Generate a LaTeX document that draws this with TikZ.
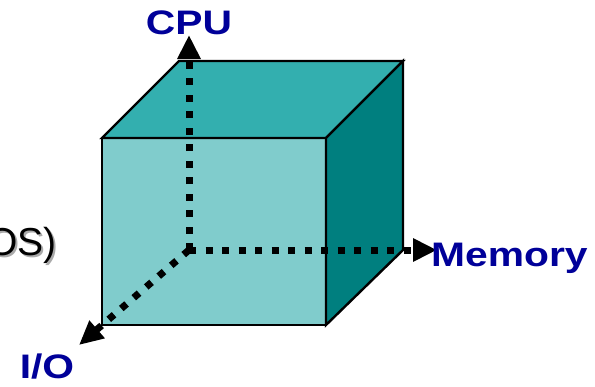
\documentclass[tikz,border=0pt]{standalone}
\usepackage{fontspec}
\usepackage{graphicx}
\setmainfont{Liberation Sans}
\usetikzlibrary{arrows.meta}
\definecolor{frontface}{RGB}{128,204,204}
\definecolor{topface}{RGB}{51,175,175}
\definecolor{sideface}{RGB}{0,127,127}
\definecolor{axislabel}{RGB}{0,0,153}
\definecolor{shadowgray}{RGB}{170,170,170}
\tikzset{
  face/.style={draw=black, line width=2.4pt, line join=miter},
  axis/.style={line width=7pt, dash pattern=on 7pt off 9.5pt,
    -{Triangle[length=24pt,width=22pt]}},
  axislbl/.style={text=axislabel, inner sep=0pt,
    font=\fontsize{34}{34}\selectfont\bfseries},
  oslbl/.style={inner sep=0pt, font=\fontsize{39}{39}\selectfont}
}
\newcommand{\widelbl}[1]{\scalebox{1.2}[1]{#1}}
\begin{document}
\begin{tikzpicture}[x=1pt,y=-1pt]
  \clip (0,0) rectangle (595,386);
  \fill[white] (0,0) rectangle (595,386);

  % cube corners
  \coordinate (ftl) at (102,138);
  \coordinate (ftr) at (326,138);
  \coordinate (fbl) at (102,325);
  \coordinate (fbr) at (326,325);
  \coordinate (btl) at (179,61);
  \coordinate (btr) at (403,61);
  \coordinate (bbr) at (403,250);

  % faces
  \filldraw[face, fill=frontface] (ftl) -- (ftr) -- (fbr) -- (fbl) -- cycle;
  \filldraw[face, fill=topface] (ftl) -- (btl) -- (btr) -- (ftr) -- cycle;
  \filldraw[face, fill=sideface] (ftr) -- (btr) -- (bbr) -- (fbr) -- cycle;

  % axes
  \coordinate (origin) at (189,250);
  \coordinate (cputip) at (189,35);
  \coordinate (memtip) at (437,250);
  \coordinate (iotip) at (79,345);
  \draw[axis] (origin) -- (cputip);
  \draw[axis] (origin) -- (memtip);
  \draw[axis] (origin) -- (iotip);

  % labels
  \node[axislbl, anchor=base] (cpu) at (189,34) {\widelbl{CPU}};
  \node[axislbl, anchor=base west] (mem) at (431,266) {\widelbl{Memory}};
  \node[axislbl, anchor=base] (io) at (47,378) {\widelbl{I/O}};

  % partly hidden caption at the left edge
  \node[oslbl, anchor=base east, text=shadowgray] (osshadow) at (59,257) {(OS)};
  \node[oslbl, anchor=base east] (os) at (57,255) {(OS)};
\end{tikzpicture}
\end{document}
